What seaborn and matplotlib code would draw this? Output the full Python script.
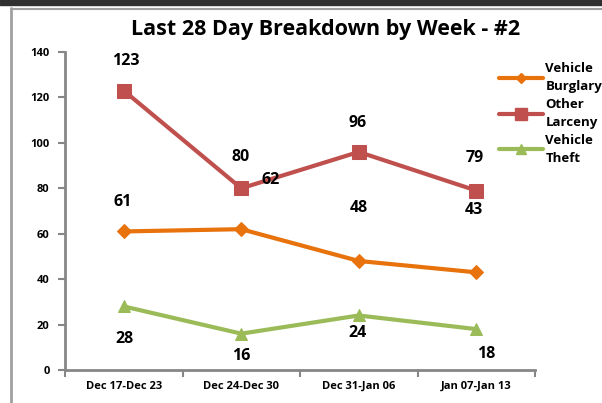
import matplotlib
matplotlib.use("Agg")
import matplotlib.pyplot as plt
import seaborn as sns
import pandas as pd
from matplotlib.lines import Line2D

weeks = ["Dec 17-Dec 23", "Dec 24-Dec 30", "Dec 31-Jan 06", "Jan 07-Jan 13"]
vehicle_burglary = [61, 62, 48, 43]
other_larceny = [123, 80, 96, 79]
vehicle_theft = [28, 16, 24, 18]
series_names = ["Vehicle\nBurglary", "Other\nLarceny", "Vehicle\nTheft"]
y_ticks = [0, 20, 40, 60, 80, 100, 120, 140]

colors = ["#E8720C", "#C0504D", "#9BBB59"]
markers = ["D", "s", "^"]
msizes = [7, 10, 9]

rows = []
for name, vals in zip(series_names, [vehicle_burglary, other_larceny, vehicle_theft]):
    for i, v in enumerate(vals):
        rows.append({"week": i, "value": v, "series": name})
df = pd.DataFrame(rows)

sns.set_theme(style="white")
plt.rcParams['font.family'] = ['Open Sans', 'DejaVu Sans']
plt.rcParams['text.color'] = 'black'

fig = plt.figure(figsize=(6.02, 4.03), dpi=100)
ax = fig.add_axes([65/602, 1-370/403, 470/602, 318/403])

for name, c, m, ms in zip(series_names, colors, markers, msizes):
    sub = df[df.series == name]
    sns.lineplot(data=sub, x="week", y="value", ax=ax, color=c, lw=3,
                 marker=m, markersize=ms, markeredgecolor=c, legend=False)

ax.set_xlim(-0.5, 3.5)
ax.set_ylim(0, 140)
ax.set_yticks(y_ticks)
ax.set_yticklabels([str(t) for t in y_ticks], fontsize=8, fontweight='bold')
ax.set_xticks(range(4))
ax.set_xticklabels(weeks, fontsize=8, fontweight='bold')
ax.set_xticks([-0.5, 0.5, 1.5, 2.5, 3.5], minor=True)
ax.tick_params(axis='x', which='major', length=0, pad=8, labelcolor='black')
ax.tick_params(axis='x', which='minor', length=5, color='#868686', width=1.5, direction='out', bottom=True)
ax.tick_params(axis='y', length=5, color='#868686', width=1.5, direction='out', left=True, pad=6,
               labelcolor='black')
ax.set_xlabel("")
ax.set_ylabel("")
for s in ['top', 'right']:
    ax.spines[s].set_visible(False)
for s in ['left', 'bottom']:
    ax.spines[s].set_color('#868686')
    ax.spines[s].set_linewidth(2)

# data labels (offsets in pixels)
offsets = [
    [(-1, 29), (29, 49), (0, 53), (-2, 62)],
    [(2, 30), (-1, 31), (-1, 29), (-2, 33)],
    [(1, -33), (0, -22), (-1, -18), (10, -25)],
]
for vals, offs in zip([vehicle_burglary, other_larceny, vehicle_theft], offsets):
    for i, (v, o) in enumerate(zip(vals, offs)):
        ax.annotate(str(v), (i, v), xytext=o, textcoords='offset pixels',
                    ha='center', va='center', fontsize=11.5, fontweight='bold', color='black')

fig.text(326/602, 1-30/403, "Last 28 Day Breakdown by Week - #2", ha='center', va='center',
         fontsize=15.5, fontweight='bold', color='black')

handles = [Line2D([0], [0], color=c, lw=3, marker=m, markersize=ms*0.8, markeredgecolor=c)
           for c, m, ms in zip(colors, markers, msizes)]
leg = fig.legend(handles, series_names, loc='upper left', bbox_to_anchor=(494/602, 1-57/403),
                 frameon=False, prop={'size': 9.5, 'weight': 'bold'}, handlelength=3.3,
                 handletextpad=0.2, labelspacing=0.35, borderaxespad=0)
for t in leg.get_texts():
    t.set_linespacing(1.5)
    t.set_color('black')

# screenshot frame lines
fig.add_artist(Line2D([11/602, 11/602], [0, 1-8/403], color='#A0A0A0', lw=2, transform=fig.transFigure))
fig.add_artist(Line2D([11/602, 1], [1-9/403, 1-9/403], color='#A0A0A0', lw=1.5, transform=fig.transFigure))
fig.patches.append(plt.Rectangle((0, 1-5/403), 1, 5/403, transform=fig.transFigure, color='#303030'))

fig.savefig("out.png", dpi=100)
